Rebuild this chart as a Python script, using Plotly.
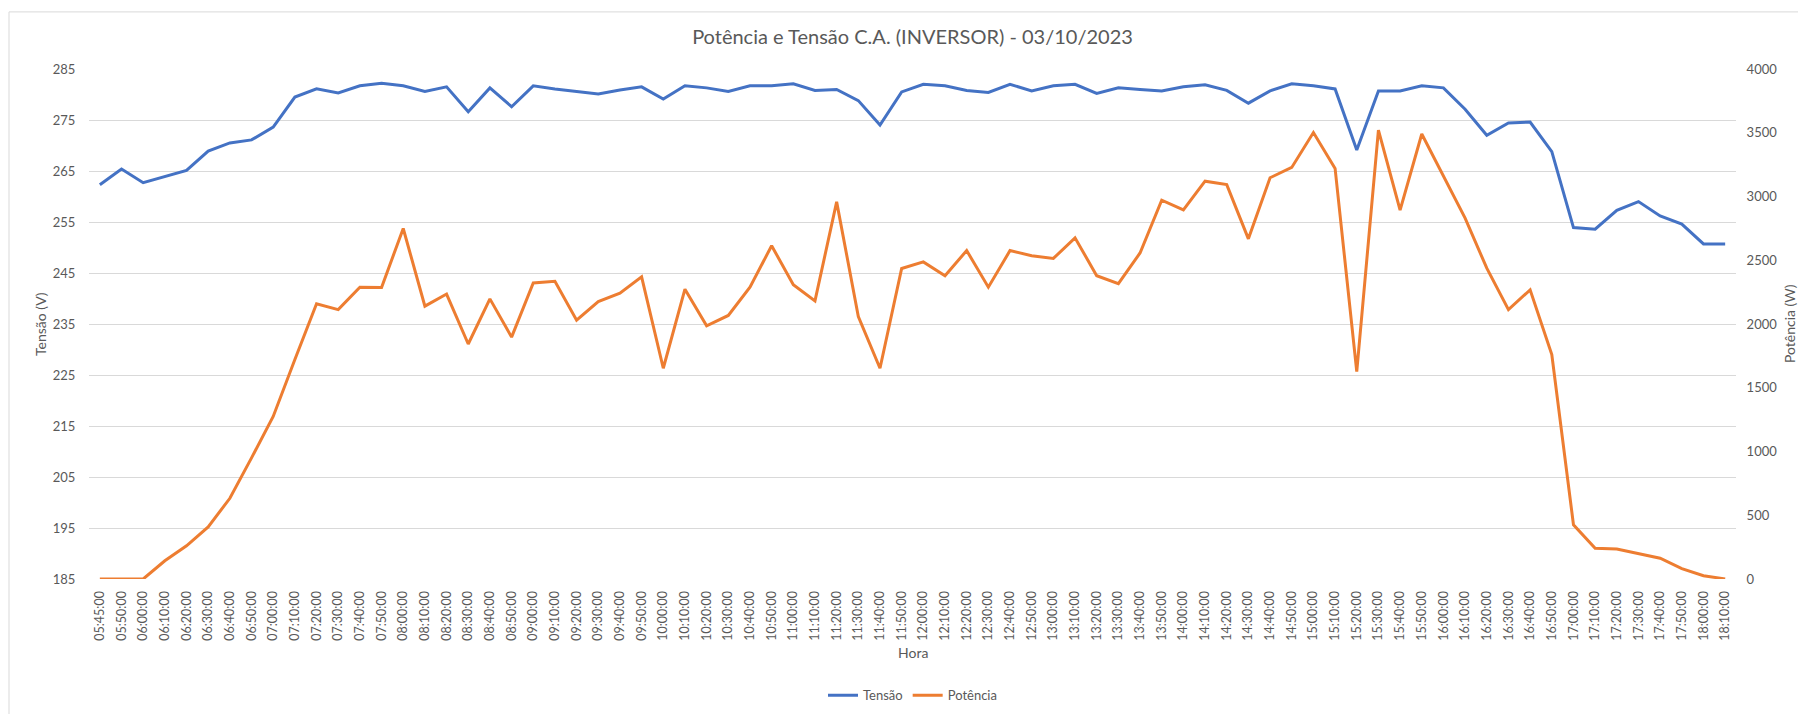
import plotly.graph_objects as go

horas = ["05:45:00", "05:50:00", "06:00:00", "06:10:00", "06:20:00", "06:30:00", "06:40:00", "06:50:00",
         "07:00:00", "07:10:00", "07:20:00", "07:30:00", "07:40:00", "07:50:00", "08:00:00", "08:10:00",
         "08:20:00", "08:30:00", "08:40:00", "08:50:00", "09:00:00", "09:10:00", "09:20:00", "09:30:00",
         "09:40:00", "09:50:00", "10:00:00", "10:10:00", "10:20:00", "10:30:00", "10:40:00", "10:50:00",
         "11:00:00", "11:10:00", "11:20:00", "11:30:00", "11:40:00", "11:50:00", "12:00:00", "12:10:00",
         "12:20:00", "12:30:00", "12:40:00", "12:50:00", "13:00:00", "13:10:00", "13:20:00", "13:30:00",
         "13:40:00", "13:50:00", "14:00:00", "14:10:00", "14:20:00", "14:30:00", "14:40:00", "14:50:00",
         "15:00:00", "15:10:00", "15:20:00", "15:30:00", "15:40:00", "15:50:00", "16:00:00", "16:10:00",
         "16:20:00", "16:30:00", "16:40:00", "16:50:00", "17:00:00", "17:10:00", "17:20:00", "17:30:00",
         "17:40:00", "17:50:00", "18:00:00", "18:10:00"]

tensao = [262.3, 265.4, 262.7, 263.9, 265.1, 268.9, 270.5, 271.1, 273.6, 279.5,
          281.1, 280.3, 281.7, 282.2, 281.7, 280.6, 281.5, 276.6, 281.3, 277.6,
          281.7, 281.1, 280.6, 280.1, 280.9, 281.5, 279.1, 281.7, 281.3, 280.6,
          281.7, 281.7, 282.1, 280.8, 281.0, 278.8, 274.0, 280.5, 282.0, 281.7,
          280.8, 280.4, 282.0, 280.7, 281.7, 282.0, 280.2, 281.3, 281.0, 280.7,
          281.5, 281.9, 280.8, 278.3, 280.7, 282.1, 281.7, 281.1, 269.1, 280.7,
          280.7, 281.7, 281.3, 277.1, 272.0, 274.4, 274.6, 268.8, 253.9, 253.6,
          257.3, 259.0, 256.2, 254.6, 250.7, 250.7]

potencia = [0, 0, 0, 143, 260, 409, 633, 950, 1275, 1721,
            2159, 2113, 2289, 2287, 2749, 2140, 2235, 1843, 2197, 1897,
            2322, 2335, 2030, 2176, 2241, 2370, 1653, 2273, 1986, 2067,
            2289, 2614, 2308, 2181, 2958, 2059, 1653, 2435, 2487, 2379,
            2576, 2289, 2576, 2536, 2514, 2676, 2379, 2316, 2557, 2971,
            2895, 3120, 3093, 2668, 3147, 3228, 3502, 3220, 1626, 3521,
            2893, 3490, 3155, 2830, 2438, 2113, 2268, 1760, 425, 242,
            236, 202, 163, 82, 26, 0]

tensao_ticks = [185, 195, 205, 215, 225, 235, 245, 255, 265, 275, 285]
potencia_ticks = [0, 500, 1000, 1500, 2000, 2500, 3000, 3500, 4000]

FONT = "Lato, 'Open Sans', sans-serif"
GRAY = "#595959"
W, H = 1806, 714
ML, MR, MT, MB = 81, 78, 61, 135
PW = W - ML - MR
PH = H - MT - MB

def px(x):
    return (x - ML) / PW

def py(y):
    return (H - MB - y) / PH

fig = go.Figure()
fig.add_trace(go.Scatter(x=horas, y=tensao, name="Tensão", mode="lines",
                         line=dict(color="#4472C4", width=3), yaxis="y"))
fig.add_trace(go.Scatter(x=horas, y=potencia, name="Potência", mode="lines",
                         line=dict(color="#ED7D31", width=3), yaxis="y2"))

fig.update_layout(
    width=W, height=H,
    margin=dict(l=ML, r=MR, t=MT, b=MB),
    paper_bgcolor="white", plot_bgcolor="white",
    font=dict(family=FONT, color=GRAY, size=13),
    title=dict(text="Potência e Tensão C.A. (INVERSOR) - 03/10/2023",
               x=0.5, xref="paper", xanchor="center",
               y=1 - 29 / H, yref="container", yanchor="middle",
               font=dict(family=FONT, size=20, color=GRAY)),
    xaxis=dict(type="category", categoryorder="array", categoryarray=horas,
               range=[-0.5, len(horas) - 0.5],
               tickmode="array", tickvals=horas, ticktext=horas,
               tickangle=-90, tickfont=dict(size=12.5, color=GRAY, family=FONT),
               ticks="outside", ticklen=6, tickcolor="rgba(0,0,0,0)",
               showgrid=False, showline=False, zeroline=False),
    yaxis=dict(range=[185, 285], tickvals=tensao_ticks,
               tickfont=dict(size=13, color=GRAY, family=FONT),
               ticks="outside", ticklen=10, tickcolor="rgba(0,0,0,0)",
               showgrid=True, gridcolor="#D9D9D9", gridwidth=1,
               zeroline=False, showline=False),
    yaxis2=dict(range=[0, 4000], tickvals=potencia_ticks, overlaying="y", side="right",
                tickfont=dict(size=13, color=GRAY, family=FONT),
                ticks="outside", ticklen=7, tickcolor="rgba(0,0,0,0)",
                showgrid=False, zeroline=False, showline=False),
    legend=dict(orientation="h", x=0.5, xanchor="center", y=py(697), yanchor="middle",
                font=dict(size=13, color=GRAY, family=FONT), bgcolor="rgba(0,0,0,0)"),
    showlegend=True,
)

fig.add_annotation(text="Tensão (V)", xref="paper", yref="paper", x=px(32), y=0.5,
                   textangle=-90, showarrow=False, xanchor="center", yanchor="middle",
                   font=dict(size=14, color=GRAY, family=FONT))
fig.add_annotation(text="Potência (W)", xref="paper", yref="paper", x=px(1781), y=0.5,
                   textangle=-90, showarrow=False, xanchor="center", yanchor="middle",
                   font=dict(size=14, color=GRAY, family=FONT))
fig.add_annotation(text="Hora", xref="paper", yref="paper", x=0.5, y=py(654),
                   showarrow=False, xanchor="center", yanchor="middle",
                   font=dict(size=14, color=GRAY, family=FONT))

fig.add_shape(type="rect", xref="paper", yref="paper",
              x0=px(1), x1=px(1830), y0=py(740), y1=py(3),
              line=dict(color="#D9D9D9", width=1), fillcolor="rgba(0,0,0,0)", layer="below")

fig.write_html("out.html")
